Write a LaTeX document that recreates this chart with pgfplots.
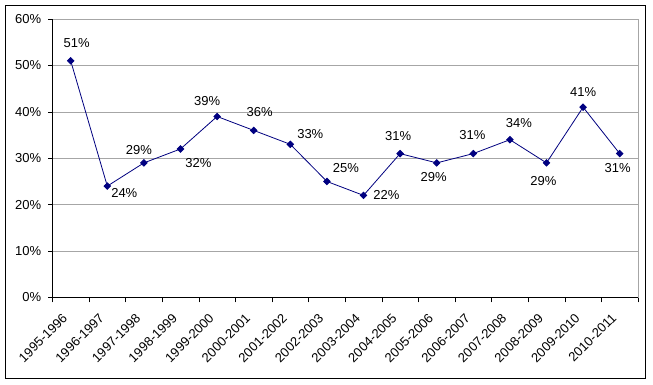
\documentclass[border=0pt]{standalone}
\usepackage{pgfplots}
\pgfplotsset{compat=1.18}
\usepackage{pgfplotstable}
\usepackage{fontspec}
\setmainfont{Liberation Sans}
\definecolor{navy}{RGB}{0,0,128}
\definecolor{gridgray}{RGB}{166,166,166}
\pgfplotstableread{
x y dx dy
0 51 6 18
1 24 17 -7
2 29 -5 13
3 32 18 -14
4 39 -10 15
5 36 6 18
6 33 20 10
7 25 19 13
8 22 23 0
9 31 -2 18
10 29 -3 -14
11 31 -1 19
12 34 9 17
13 29 -3 -18
14 41 0 15
15 31 -2 -14
}\data
\begin{document}
\begin{tikzpicture}
\path[use as bounding box, fill=white] (-52.4pt,-87.5pt) rectangle (600.6pt,297.5pt);
\begin{axis}[
  at={(0,0)}, anchor=south west,
  scale only axis, width=585.6pt, height=278.5pt,
  font=\fontsize{13}{15}\selectfont,
  /pgf/number format/assume math mode=true,
  xmin=-0.5, xmax=15.5, ymin=0, ymax=60,
  xtick={0,...,15},
  xticklabels={1995-1996,1996-1997,1997-1998,1998-1999,1999-2000,2000-2001,2001-2002,2002-2003,2003-2004,2004-2005,2005-2006,2006-2007,2007-2008,2008-2009,2009-2010,2010-2011},
  major x tick style={draw=none},
  minor xtick={-0.5,0.5,...,15.5},
  ytick={0,10,...,60},
  yticklabel={\pgfmathprintnumber{\tick}\%},
  tick align=outside,
  major tick length=4pt, minor tick length=5pt,
  tick style={black, line width=0.6pt},
  xtick pos=left, ytick pos=left,
  ymajorgrids, grid style={gridgray, line width=0.6pt},
  axis line style={gridgray, line width=0.6pt},
  xticklabel style={xshift=-9pt, yshift=-11pt, rotate=45, anchor=north east, inner sep=0pt, text=black},
  yticklabel style={xshift=-7pt, anchor=east, inner sep=0pt, text=black},
  clip=false,
]
\addplot[color=navy, line width=0.8pt, mark=square*, mark size=2.3pt, mark options={rotate=45, fill=navy},
  visualization depends on={\thisrow{dx} \as \dx},
  visualization depends on={\thisrow{dy} \as \dy},
  nodes near coords={\pgfmathprintnumber{\pgfplotspointmeta}\%},
  nodes near coords style={anchor=center, xshift=\dx pt, yshift=\dy pt, text=black, font=\fontsize{13}{15}\selectfont, /pgf/number format/assume math mode=true},
] table[x=x, y=y] {\data};
\draw[black, line width=0.8pt] (rel axis cs:0,1) -- (rel axis cs:0,0) -- (rel axis cs:1,0);
\end{axis}
\draw[black, line width=1pt] (-46.4pt,-80.8pt) rectangle (592.6pt,291.5pt);
\end{tikzpicture}
\end{document}
